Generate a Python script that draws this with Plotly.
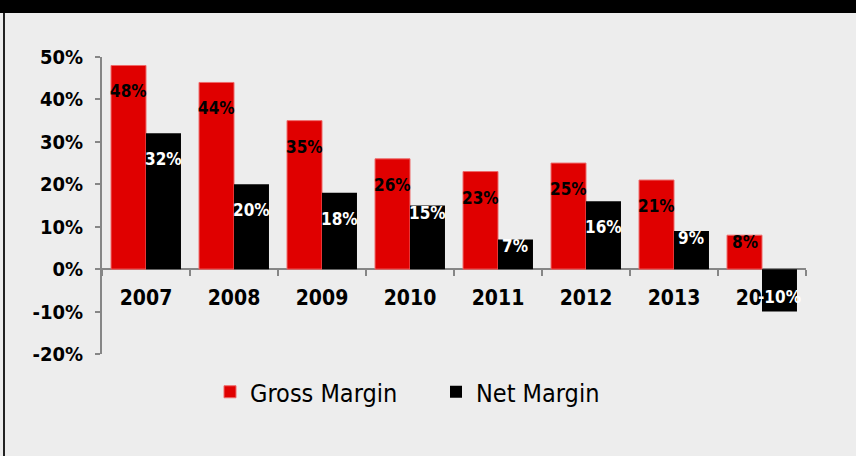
import plotly.graph_objects as go

years = ["2007", "2008", "2009", "2010", "2011", "2012", "2013", "2014"]
gross_margin = [48, 44, 35, 26, 23, 25, 21, 8]
net_margin = [32, 20, 18, 15, 7, 16, 9, -10]
y_tick_vals = [-20, -10, 0, 10, 20, 30, 40, 50]
y_tick_text = ["-20%", "-10%", "0%", "10%", "20%", "30%", "40%", "50%"]

W, H = 856, 456
ML, MR, MT, MB = 102, 50, 57, 102
PW, PH = W - ML - MR, H - MT - MB
BARGAP = 0.205
Y_MIN, Y_MAX = -20, 50

RED = "#E00000"
BLACK = "#000000"
AXIS = "#868686"
BG = "#EDEDED"
FONT = "DejaVu Sans Condensed, DejaVu Sans, sans-serif"

fig = go.Figure()
fig.add_trace(go.Bar(x=years, y=gross_margin, name="Gross Margin",
                     marker=dict(color=RED, line=dict(width=1, color="#EE6A6A"))))
fig.add_trace(go.Bar(x=years, y=net_margin, name="Net Margin",
                     marker=dict(color=BLACK, line=dict(width=0))))

cat_w = PW / len(years)
bar_w = cat_w * (1 - BARGAP) / 2


def label_shift(v):
    if v < 0:
        return 15
    return -26 if v >= 16 else -7


annotations = []
for values, sign, color in ((gross_margin, -1, "black"), (net_margin, 1, "white")):
    for i, v in enumerate(values):
        annotations.append(dict(
            x=i, y=v, xref="x", yref="y", showarrow=False,
            text=f"<b>{v}%</b>", xshift=sign * bar_w / 2, yshift=label_shift(v),
            yanchor="middle", font=dict(size=17, color=color, family=FONT)))


def px_to_paper_x(px):
    return (px - ML) / PW


def px_to_paper_y(py):
    return (H - MB - py) / PH


shapes = [
    dict(type="rect", xref="paper", yref="paper", x0=px_to_paper_x(-10), x1=px_to_paper_x(W + 10),
         y0=px_to_paper_y(13), y1=px_to_paper_y(-10), fillcolor="black", line=dict(width=0), layer="above"),
    dict(type="line", xref="paper", yref="paper", x0=px_to_paper_x(4), x1=px_to_paper_x(4),
         y0=px_to_paper_y(13), y1=px_to_paper_y(H + 10), line=dict(color="#222222", width=2)),
]

fig.update_layout(
    width=W, height=H,
    margin=dict(l=ML, r=MR, t=MT, b=MB, pad=0),
    paper_bgcolor=BG, plot_bgcolor=BG,
    barmode="group", bargap=BARGAP, bargroupgap=0,
    font=dict(family=FONT, color="black"),
    showlegend=True,
    legend=dict(orientation="h", x=px_to_paper_x(210), xanchor="left",
                y=px_to_paper_y(392), yanchor="middle",
                font=dict(size=25, family=FONT), bgcolor="rgba(0,0,0,0)",
                entrywidth=181, entrywidthmode="pixels", traceorder="normal"),
    annotations=annotations,
    shapes=shapes,
)

fig.update_yaxes(range=[Y_MIN, Y_MAX], tickvals=y_tick_vals, ticktext=y_tick_text,
                 showgrid=False, zeroline=False, showline=True, linecolor=AXIS, linewidth=2,
                 ticks="outside", ticklen=5, tickcolor=AXIS, tickwidth=1.5,
                 ticklabelstandoff=8,
                 tickfont=dict(size=20, family=FONT, weight="bold"))
fig.update_xaxes(type="category", range=[-0.5, len(years) - 0.5],
                 anchor="free", position=(0 - Y_MIN) / (Y_MAX - Y_MIN),
                 showgrid=False, zeroline=False, showline=True, linecolor=AXIS, linewidth=2,
                 ticks="outside", ticklen=6, tickcolor=AXIS, tickwidth=1.5, tickson="boundaries",
                 ticklabelstandoff=10, layer="below traces",
                 tickfont=dict(size=21, family=FONT, weight="bold"))

fig.write_html("out.html")
